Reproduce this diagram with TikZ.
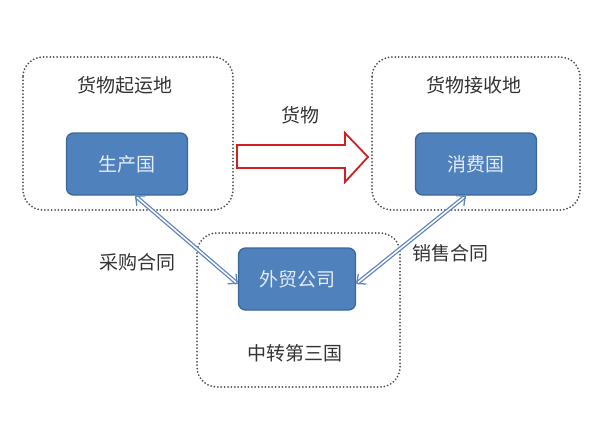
\documentclass[tikz,border=0pt]{standalone}
\usepackage{fontspec}
\setmainfont{Noto Sans CJK SC}
\usetikzlibrary{arrows.meta}
\usetikzlibrary{positioning}

\definecolor{boxblue}{HTML}{4F81BD}
\definecolor{boxline}{HTML}{3B679A}
\definecolor{linkblue}{HTML}{5F86C0}
\definecolor{dotgray}{HTML}{505050}
\definecolor{textgray}{HTML}{333333}
\definecolor{shipred}{HTML}{D02020}

\tikzset{
    region/.style = {draw=dotgray, line width=2pt, line cap=round,
        dash pattern=on 0pt off 3.4pt, rounded corners=20pt},
    country/.style = {draw=boxline, fill=boxblue, line width=1.3pt, rounded corners=7pt,
        text=white!85!boxblue, font=\fontsize{19}{21}\selectfont},
    caption/.style = {text=textgray, font=\fontsize{19}{21}\selectfont},
    contract/.style = {draw=linkblue, double=white, double distance=1.5pt, line width=1.3pt,
        {Straight Barb[length=7pt, width=13pt]}-{Straight Barb[length=7pt, width=13pt]}}
}

\begin{document}
\begin{tikzpicture}[x=1pt, y=-1pt]

    \useasboundingbox (0,0) rectangle (610,439);

    % dotted regions
    \draw[region] (23,57) rectangle (233,210);
    \draw[region] (372,57) rectangle (580,210);
    \draw[region] (197,233) rectangle (400,387);

    \node[caption] (origin) at (125,85) {货物起运地};
    \node[caption] (dest) at (474,85) {货物接收地};
    \node[caption] (transit) at (295,353) {中转第三国};

    % countries
    \node[country, minimum width=121pt, minimum height=62pt] (prod) at (127,164) {生产国};
    \node[country, minimum width=121pt, minimum height=62pt] (cons) at (476,164) {消费国};
    \node[country, minimum width=117pt, minimum height=62pt] (trade) at (297,279) {外贸公司};

    % goods
    \draw[shipred, line width=1.8pt, fill=white, line join=miter]
        (237,145) -- (345,145) -- (345,133) -- (368,157) -- (345,182)
        -- (345,168) -- (237,168) -- cycle;
    \node[caption] (goods) at (300,115) {货物};

    % contracts
    \draw[contract] ([xshift=8pt]prod.south) -- ([yshift=-5pt]trade.west);
    \draw[contract] ([xshift=-10pt]cons.south) -- ([yshift=-5pt]trade.east);

    \node[caption] (buy) at (137,262) {采购合同};
    \node[caption] (sell) at (450,253) {销售合同};

\end{tikzpicture}
\end{document}
